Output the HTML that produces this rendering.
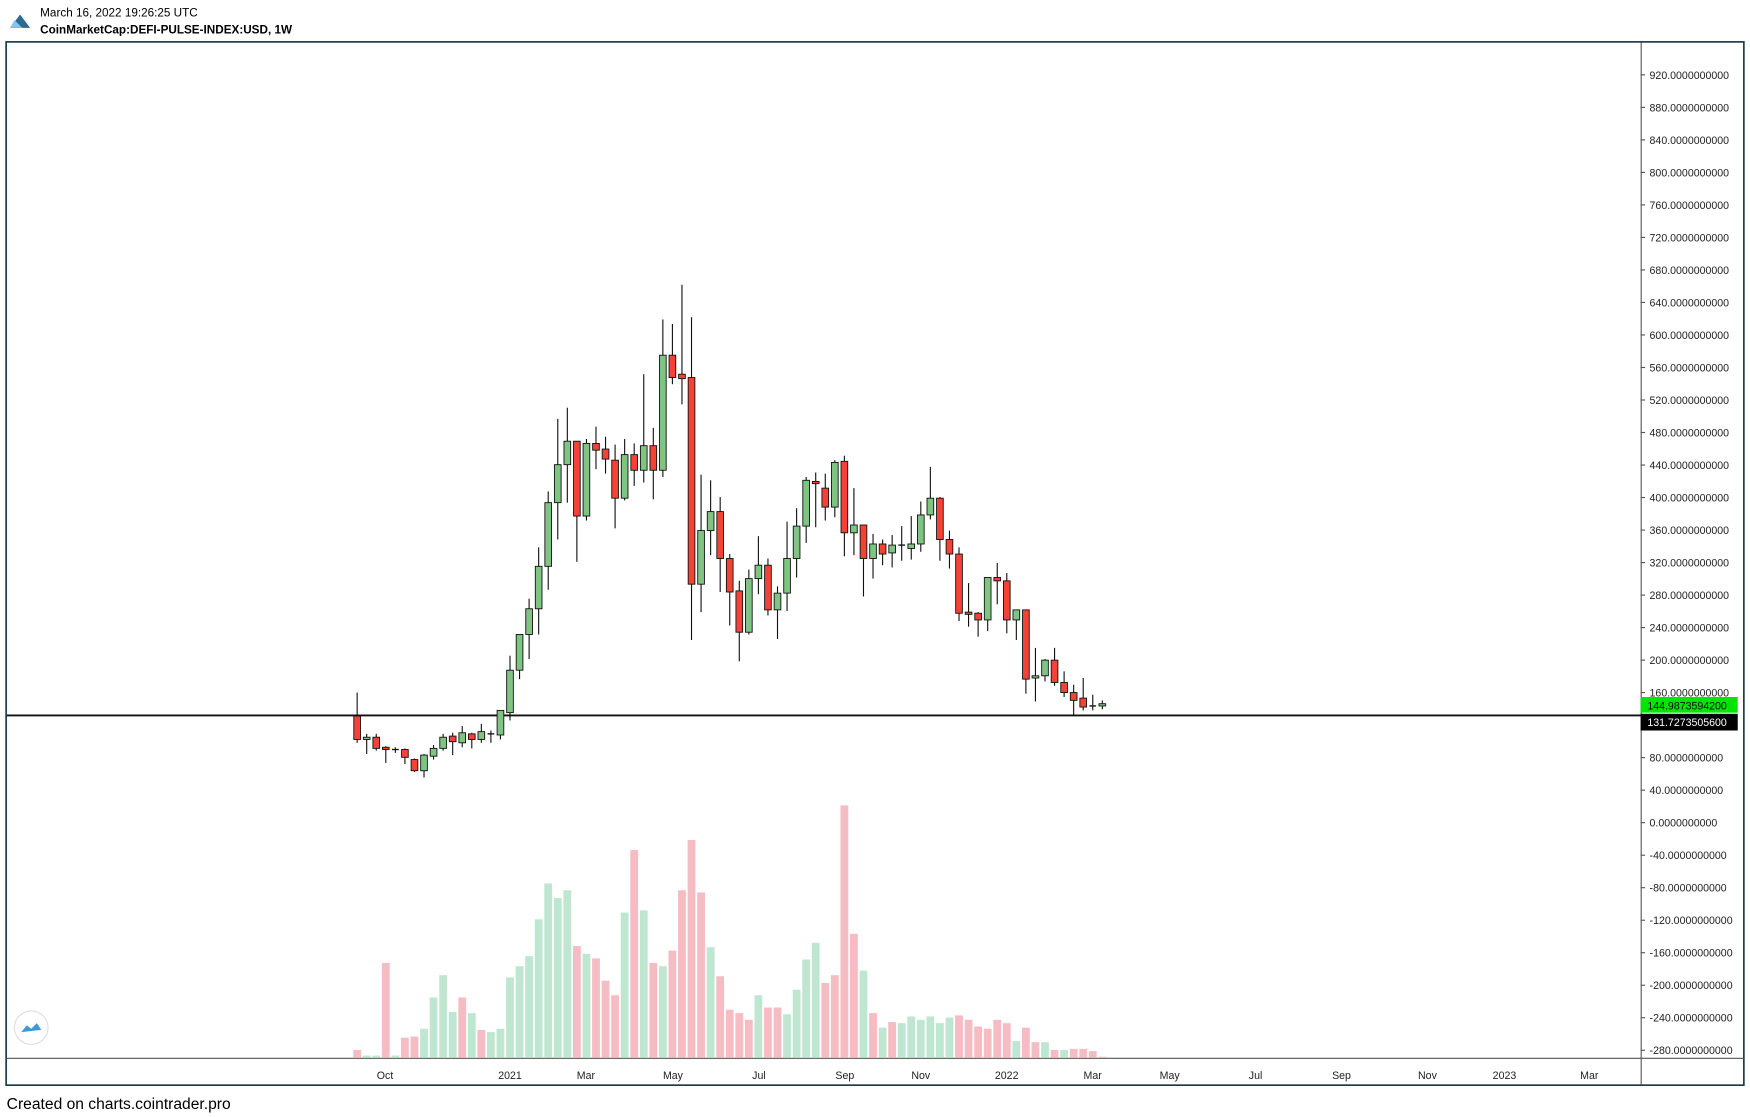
<!DOCTYPE html>
<html><head><meta charset="utf-8"><style>
html,body{margin:0;padding:0;background:#fff;width:1750px;height:1117px;overflow:hidden}
svg{display:block}
text{font-family:"Liberation Sans",sans-serif}
</style></head><body>
<svg id="c" width="1750" height="1117" viewBox="0 0 1568 1000" preserveAspectRatio="none" xmlns="http://www.w3.org/2000/svg">
<rect width="1568" height="1000" fill="#fff"/>
<polygon points="9,25 18,13 27,25" fill="#2a6b8f"/><polygon points="9,25 13,18 20,25" fill="#7fc6e8"/>
<text x="36" y="15" font-size="10.5" fill="#000">March 16, 2022 19:26:25 UTC</text>
<text x="36" y="30" font-size="10.5" font-weight="bold" fill="#000">CoinMarketCap:DEFI-PULSE-INDEX:USD, 1W</text>
<rect x="5.5" y="37.5" width="1557" height="934" fill="none" stroke="#1d3a4a" stroke-width="1.5"/>
<line x1="1470.5" y1="38" x2="1470.5" y2="971" stroke="#555" stroke-width="1"/>
<line x1="6" y1="947.5" x2="1562" y2="947.5" stroke="#555" stroke-width="1"/>
<g id="g"></g>
<circle cx="28" cy="920" r="15" fill="#fff" stroke="#ddd"/>
<path d="M19 924 l5 -6 l4 3 l5 -5 l4 6 z" fill="#3a9ad9"/>
<text x="6" y="993" font-size="14" fill="#000">Created on charts.cointrader.pro</text>
</svg>
<script>
var g=document.getElementById('g'),s='';
// price labels
for(var p=920;p>=-280;p-=40){var y=736.5-p*0.7277;
s+='<line x1="1470" y1="'+y+'" x2="1474" y2="'+y+'" stroke="#555"/>';
s+='<text x="1478" y="'+(y+3.5)+'" font-size="9.5" fill="#222">'+p.toFixed(10)+'</text>';}
// time labels
var tl=[["Oct",345],["2021",457],["Mar",525],["May",603],["Jul",680],["Sep",757],["Nov",825],["2022",902],["Mar",979],["May",1048],["Jul",1125],["Sep",1202],["Nov",1279],["2023",1348],["Mar",1424]];
tl.forEach(function(t){s+='<text x="'+t[1]+'" y="966" font-size="9.5" fill="#222" text-anchor="middle">'+t[0]+'</text>';});
// volume
var vt=[940,945,945,862,945,929,928,921,893,873,906,893,907,922,924,921,875,865,856,823,791,804,797,847,854,858,878,891,817,761,815,862,865,851,797,752,799,848,874,904,907,913,891,902,902,908,886,859,844,880,873,721,836,869,907,920,915,916,910,913,910,916,911,909,913,919,921,913,916,932,920,933,933,940,940,939,939,941,946];
var vc="pggpgppggggpgpggggggggg"+"pgpppgpgpgppppgpppgppggg".slice(0,0)+"pgpppgpgpgppppgppppgppggggppppgpgpggggggppppppgppgpgpppppgg";
var X=function(i){return 320+i*8.56;};
for(var i=0;i<vt.length;i++){var c=vc[i]=='p'?'#f6bcc3':'#bfe6d1';
s+='<rect x="'+(X(i)-3.5)+'" y="'+vt[i]+'" width="7" height="'+(947-vt[i])+'" fill="'+c+'"/>';}
// horizontal line
s+='<line x1="6" y1="640.5" x2="1470" y2="640.5" stroke="#111" stroke-width="1.6"/>';
// candles O C H L
var d=[[641,662,620,665],[662,660,657,675],[660,670,657,672],[669,671,668,683],[671,671,669,674],[671,678,670,684],[680,690,679,691],[690,676,675,696],[677,670,667,680],[670,660,657,672],[659,664,656,676],[665,656,650,669],[657,662,656,670],[662,655,648,665],[657,657,654,665],[658,636,636,662],[638,600,587,645],[600,568,568,608],[568,545,536,590],[545,507,490,568],[507,450,440,528],[450,416,375,483],[416,395,365,450],[395,462,395,503],[462,397,393,466],[397,403,382,420],[402,411,391,424],[412,446,398,473],[446,407,393,448],[407,421,397,435],[421,399,335,432],[399,421,383,447],[421,318,286,427],[318,338,290,344],[335,339,255,362],[338,523,284,573],[523,475,425,548],[475,458,430,497],[458,500,445,530],[500,530,496,560],[529,566,520,592],[566,518,510,568],[518,506,480,532],[506,546,500,551],[546,531,525,572],[531,500,467,547],[500,471,455,517],[471,430,427,486],[431,433,423,472],[437,454,424,466],[454,414,412,463],[413,477,408,498],[477,470,437,497],[470,500,470,534],[500,487,478,518],[487,496,483,506],[495,488,479,508],[488,488,471,502],[491,487,462,501],[487,461,449,494],[461,446,418,465],[446,483,445,502],[483,496,475,509],[496,549,490,556],[548,550,522,561],[549,555,548,570],[555,517,517,565],[517,520,504,541],[520,555,513,567],[555,546,546,573],[546,608,546,621],[607,605,580,628],[605,591,590,610],[591,611,580,614],[611,620,601,624],[620,627,613,641],[625,633,607,636],[632,632,622,636],[632,630,627,635]];
d.forEach(function(k,i){var x=X(i),o=k[0],c=k[1],t=Math.min(o,c),h=Math.max(1,Math.abs(o-c));
var col=c>o?'#f44336':'#7fc483';
s+='<line x1="'+x+'" y1="'+k[2]+'" x2="'+x+'" y2="'+k[3]+'" stroke="#111" stroke-width="1"/>';
if(o==c)s+='<line x1="'+(x-3)+'" y1="'+o+'" x2="'+(x+3)+'" y2="'+o+'" stroke="#111" stroke-width="1.2"/>';
else s+='<rect x="'+(x-3)+'" y="'+t+'" width="6" height="'+h+'" fill="'+col+'" stroke="#111" stroke-width="0.8"/>';});
// price boxes
s+='<rect x="1470" y="624" width="87" height="14" fill="#00e600"/><text x="1476" y="635" font-size="9.5" fill="#000">144.9873594200</text>';
s+='<rect x="1470" y="639" width="87" height="15" fill="#000"/><text x="1476" y="650" font-size="9.5" fill="#fff">131.7273505600</text>';
g.innerHTML=s;
</script>
</body></html>
